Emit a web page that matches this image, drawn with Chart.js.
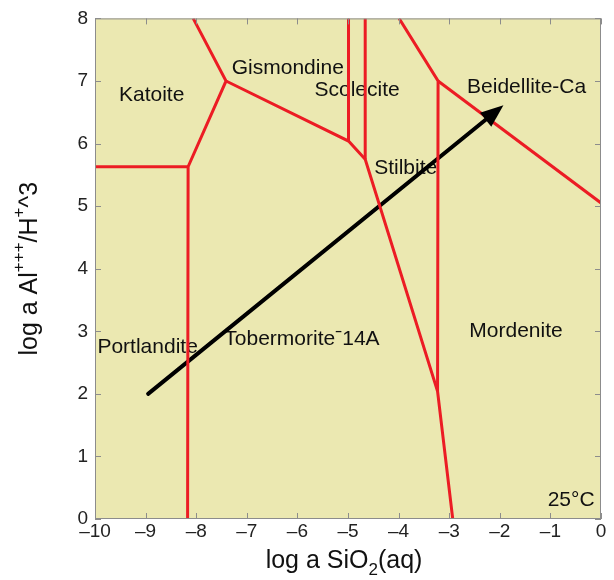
<!DOCTYPE html>
<html>
<head>
<meta charset="utf-8">
<script src="https://cdn.jsdelivr.net/npm/chart.js@4/dist/chart.umd.min.js"></script>
<style>
  html, body { margin: 0; padding: 0; background: #fff; }
  #wrap { width: 614px; height: 580px; }
</style>
</head>
<body>
<div id="wrap"><canvas id="diagram"></canvas></div>
<script>
// Axis ticks
const xTickValues = [-10, -9, -8, -7, -6, -5, -4, -3, -2, -1, 0];
const yTickValues = [0, 1, 2, 3, 4, 5, 6, 7, 8];

// Phase boundaries [log a SiO2, log a Al+++/H+^3]
const portlanditeTop = [[-10, 5.63], [-8.16, 5.63]];
const portlanditeEdge = [[-8.17, 0], [-8.16, 5.63], [-7.41, 7.0], [-8.06, 8]];
const tobermoriteEdge = [[-7.41, 7.0], [-4.99, 6.04], [-4.66, 5.75], [-3.23, 2.04], [-2.93, 0]];
const scoleciteLeft = [[-4.99, 6.04], [-4.99, 8]];
const scoleciteRight = [[-4.66, 5.75], [-4.66, 8]];
const mordeniteEdge = [[-3.23, 2.04], [-3.22, 7.0], [-3.99, 8]];
const beidelliteEdge = [[-3.22, 7.0], [0, 5.05]];

// Reaction path arrow
const arrowPath = [[-8.95, 2.0], [-2.25, 6.40]];

// Field labels
const fieldNames = ['Katoite', 'Gismondine', 'Scolecite', 'Beidellite-Ca', 'Stilbite',
                    'Portlandite', 'Tobermorite\u02C914A', 'Mordenite', '25\u00B0C'];
const fieldX = [-8.88, -6.19, -4.82, -1.47, -3.86, -8.96, -5.91, -1.68, -0.59];
const fieldY = [6.78, 7.21, 6.86, 6.90, 5.60, 2.75, 2.88, 3.00, 0.30];

const boundaries = [portlanditeTop, portlanditeEdge, tobermoriteEdge, scoleciteLeft,
                    scoleciteRight, mordeniteEdge, beidelliteEdge];

const toPoints = arr => arr.map(p => ({ x: p[0], y: p[1] }));

const datasets = boundaries.map(b => ({
    data: toPoints(b),
    showLine: true,
    borderColor: '#ec1c24',
    borderWidth: 3,
    pointRadius: 0,
    tension: 0
}));
datasets.push({
    data: toPoints(arrowPath),
    showLine: true,
    borderColor: '#000',
    borderWidth: 4,
    pointRadius: 0,
    borderCapStyle: 'round',
    arrow: true
});

const FONT = '"Liberation Sans", Arial, Helvetica, sans-serif';

const diagramPlugin = {
    id: 'diagram',
    beforeDraw(chart) {
        const { ctx, chartArea: a } = chart;
        ctx.save();
        ctx.fillStyle = '#ebe8b1';
        ctx.fillRect(a.left, a.top, a.right - a.left, a.bottom - a.top);
        ctx.restore();
    },
    beforeDatasetsDraw(chart) {
        const { ctx, scales } = chart;
        ctx.save();
        ctx.fillStyle = '#111';
        ctx.font = '21px ' + FONT;
        ctx.textAlign = 'center';
        ctx.textBaseline = 'middle';
        fieldNames.forEach((name, i) => {
            ctx.fillText(name, scales.x.getPixelForValue(fieldX[i]), scales.y.getPixelForValue(fieldY[i]));
        });
        ctx.restore();
    },
    afterDraw(chart) {
        const { ctx, chartArea: a, scales } = chart;
        ctx.save();

        // frame and inward ticks
        ctx.strokeStyle = '#8c8c8c';
        ctx.lineWidth = 1;
        ctx.strokeRect(a.left + 0.5, a.top + 0.5, a.right - a.left - 1, a.bottom - a.top - 1);
        ctx.beginPath();
        xTickValues.forEach(v => {
            const px = Math.round(scales.x.getPixelForValue(v)) + 0.5;
            ctx.moveTo(px, a.bottom); ctx.lineTo(px, a.bottom - 6);
            ctx.moveTo(px, a.top); ctx.lineTo(px, a.top + 6);
        });
        yTickValues.forEach(v => {
            const py = Math.round(scales.y.getPixelForValue(v)) + 0.5;
            ctx.moveTo(a.left, py); ctx.lineTo(a.left + 6, py);
            ctx.moveTo(a.right, py); ctx.lineTo(a.right - 6, py);
        });
        ctx.stroke();

        // arrow head
        chart.data.datasets.forEach((ds, i) => {
            if (!ds.arrow) return;
            const pts = chart.getDatasetMeta(i).data;
            const p0 = pts[pts.length - 2], p1 = pts[pts.length - 1];
            const ang = Math.atan2(p1.y - p0.y, p1.x - p0.x);
            const len = 21, half = 9;
            const tx = p1.x + Math.cos(ang) * len, ty = p1.y + Math.sin(ang) * len;
            ctx.fillStyle = '#000';
            ctx.beginPath();
            ctx.moveTo(tx, ty);
            ctx.lineTo(p1.x - Math.cos(ang) * 2 - Math.sin(ang) * half, p1.y - Math.sin(ang) * 2 + Math.cos(ang) * half);
            ctx.lineTo(p1.x - Math.cos(ang) * 2 + Math.sin(ang) * half, p1.y - Math.sin(ang) * 2 - Math.cos(ang) * half);
            ctx.closePath();
            ctx.fill();
        });

        // axis titles with sub/superscripts
        const big = '25px ' + FONT, small = '17px ' + FONT;
        const drawRuns = (runs, cx, baseY) => {
            let total = 0;
            runs.forEach(r => { ctx.font = r.sub || r.sup ? small : big; r.w = ctx.measureText(r.t).width; total += r.w; });
            let x = cx - total / 2;
            ctx.textAlign = 'left';
            ctx.textBaseline = 'alphabetic';
            runs.forEach(r => {
                ctx.font = r.sub || r.sup ? small : big;
                const dy = r.sub ? 7 : r.sup ? -13 : 0;
                ctx.fillText(r.t, x, baseY + dy);
                x += r.w;
            });
        };
        ctx.fillStyle = '#111';
        drawRuns([{ t: 'log a SiO' }, { t: '2', sub: true }, { t: '(aq)' }], (a.left + a.right) / 2 - 4, 568);

        ctx.translate(37, (a.top + a.bottom) / 2);
        ctx.rotate(-Math.PI / 2);
        drawRuns([{ t: 'log a Al' }, { t: '+++', sup: true }, { t: '/H' }, { t: '+', sup: true }, { t: '^3' }], 0, 0);
        ctx.restore();
    }
};

const tickFont = { family: FONT, size: 19 };

new Chart(document.getElementById('diagram'), {
    type: 'scatter',
    data: { datasets: datasets },
    options: {
        responsive: true,
        maintainAspectRatio: false,
        animation: false,
        layout: { padding: { left: 0, right: 13, top: 13, bottom: 0 } },
        plugins: {
            legend: { display: false },
            tooltip: { enabled: false }
        },
        scales: {
            x: {
                type: 'linear',
                min: -10,
                max: 0,
                afterFit: s => { s.height = 61; },
                afterBuildTicks: s => { s.ticks = xTickValues.map(v => ({ value: v })); },
                grid: { display: false, drawTicks: false },
                border: { display: false },
                ticks: {
                    color: '#222',
                    font: tickFont,
                    padding: 1,
                    maxRotation: 0,
                    callback: v => String(v).replace('-', '\u2013')
                }
            },
            y: {
                type: 'linear',
                min: 0,
                max: 8,
                afterFit: s => { s.width = 95; },
                afterBuildTicks: s => { s.ticks = yTickValues.map(v => ({ value: v })); },
                grid: { display: false, drawTicks: false },
                border: { display: false },
                ticks: {
                    color: '#222',
                    font: tickFont,
                    padding: 7
                }
            }
        }
    },
    plugins: [diagramPlugin]
});
</script>
</body>
</html>
